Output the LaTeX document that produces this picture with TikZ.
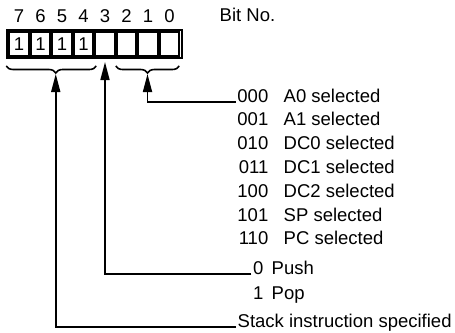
\documentclass[tikz,border=0pt]{standalone}
\usepackage{fontspec}
\setmainfont{Liberation Sans}
\usetikzlibrary{positioning, arrows.meta, fit, decorations.pathreplacing, calc}

\begin{document}
\begin{tikzpicture}[x=1pt, y=-1pt,
  every node/.style={font=\fontsize{18.5}{21}\selectfont, inner sep=1.5pt},
  bitcell/.style={draw, line width=1.6pt, minimum width=19.5pt, minimum height=24pt, inner sep=0pt, outer sep=0pt},
  ptr/.style={line width=1.7pt, -{Triangle[length=18pt, width=9pt]}},
  brc/.style={line width=1.6pt, decorate, decoration={brace, amplitude=7pt, mirror}}]
  \useasboundingbox (0,0) rectangle (455,332);

  %% Register cells
  \node[bitcell] (r7) at (19,44) {1};
  \node[bitcell, right=2pt of r7] (r6) {1};
  \node[bitcell, right=2pt of r6] (r5) {1};
  \node[bitcell, right=2pt of r5] (r4) {1};
  \node[bitcell, right=2pt of r4] (r3) {};
  \node[bitcell, right=2pt of r3] (r2) {};
  \node[bitcell, right=2pt of r2] (r1) {};
  \node[bitcell, right=2pt of r1] (r0) {};
  \node[draw, line width=2pt, inner sep=2.3pt, fit=(r7)(r0)] (reg) {};

  %% Bit numbers
  \node[above=8pt of r7] (d7) {7};
  \node[above=8pt of r6] (d6) {6};
  \node[above=8pt of r5] (d5) {5};
  \node[above=8pt of r4] (d4) {4};
  \node[above=8pt of r3] (d3) {3};
  \node[above=8pt of r2] (d2) {2};
  \node[above=8pt of r1] (d1) {1};
  \node[above=8pt of r0] (d0) {0};
  \node[anchor=base west] (bitno) at (218,21) {Bit No.};

  %% Braces and arrow tips
  \coordinate (hiL) at ($(r7.south west)+(-3,10)$);
  \coordinate (hiR) at ($(r4.south east)+(3,10)$);
  \coordinate (loL) at ($(r2.south west)+(-1,10)$);
  \coordinate (loR) at ($(r0.south east)+(0,10)$);
  \draw[brc, decoration={aspect=0.55}] (hiL) -- (hiR);
  \draw[brc] (loL) -- (loR);
  \coordinate (hiTip) at ($(hiL)!0.55!(hiR)+(0,8)$);
  \coordinate (loTip) at ($(loL)!0.5!(loR)+(0,8)$);
  \coordinate (midTip) at ($(r3.south)+(0,6)$);

  %% Register selection
  \node[anchor=base east] (c1) at (270,102) {000};
  \node[anchor=base west] (s1) at (282,102) {A0 selected};
  \node[anchor=base east] (c2) at (270,125.8) {001};
  \node[anchor=base west] (s2) at (282,125.8) {A1 selected};
  \node[anchor=base east] (c3) at (270,149.6) {010};
  \node[anchor=base west] (s3) at (282,149.6) {DC0 selected};
  \node[anchor=base east] (c4) at (270,173.4) {011};
  \node[anchor=base west] (s4) at (282,173.4) {DC1 selected};
  \node[anchor=base east] (c5) at (270,197.2) {100};
  \node[anchor=base west] (s5) at (282,197.2) {DC2 selected};
  \node[anchor=base east] (c6) at (270,221) {101};
  \node[anchor=base west] (s6) at (282,221) {SP selected};
  \node[anchor=base east] (c7) at (270,244.8) {110};
  \node[anchor=base west] (s7) at (282,244.8) {PC selected};

  %% Push / pop
  \node[anchor=base east] (push) at (265,274) {0};
  \node[anchor=base west] (pushtxt) at (270,274) {Push};
  \node[anchor=base east] (pop) at (265,299) {1};
  \node[anchor=base west] (poptxt) at (270,299) {Pop};

  %% Stack instruction
  \node[anchor=base west] (stack) at (236,327) {Stack instruction specified};

  %% Pointers
  \draw[ptr] (c1.base west) -| (loTip);
  \draw[ptr] (push.base west) -| (midTip);
  \draw[ptr] (stack.base west) -| (hiTip);
\end{tikzpicture}
\end{document}
